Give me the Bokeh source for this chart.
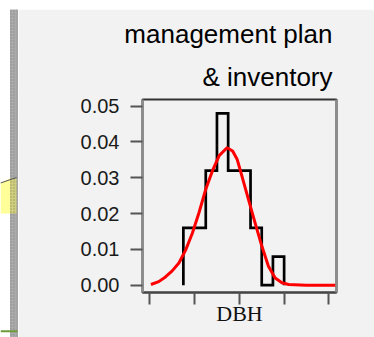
from bokeh.plotting import figure
from bokeh.layouts import row, column
from bokeh.models import (FixedTicker, NumeralTickFormatter, LinearAxis,
                          Range1d, Title)
from bokeh.embed import file_html
from bokeh.resources import INLINE

# ---- data ----
x_ticks = [0, 20, 40, 60, 80]
y_ticks = [0.00, 0.01, 0.02, 0.03, 0.04, 0.05]
bin_edges = [15, 20, 25, 30, 35, 40, 45, 50, 55, 60]
density = [0.016, 0.016, 0.032, 0.048, 0.032, 0.032, 0.016, 0.0, 0.008]
curve_x = [0.5, 4, 7, 10, 13, 16, 19, 22, 25, 28, 31, 34.5, 37, 39, 41, 44,
           47, 50, 53, 56, 59, 62, 70, 83.4]
curve_y = [0.0002, 0.0010, 0.0023, 0.0040, 0.0062, 0.0098, 0.0145, 0.0203,
           0.0268, 0.0320, 0.0362, 0.0384, 0.0375, 0.0352, 0.0308, 0.0241,
           0.0175, 0.0110, 0.0053, 0.0020, 0.0007, 0.0002, 0.0, 0.0]
title_lines = ["management plan", "& inventory"]
x_label = "DBH"

LEFT_W, TOP_H = 18, 9
W, H = 374 - LEFT_W, 337 - TOP_H


def bare(width, height, xr, yr):
    f = figure(width=width, height=height, output_backend="svg",
               toolbar_location=None, x_range=xr, y_range=yr, min_border=0)
    f.axis.visible = False
    f.grid.visible = False
    f.outline_line_color = None
    f.background_fill_color = "white"
    f.border_fill_color = "white"
    return f


# ---- left slide decoration (strip, callout, connector line) ----
left = bare(LEFT_W, 337, Range1d(0, LEFT_W), Range1d(337, 0))
left.quad(left=[9.5], right=[16], top=[9], bottom=[337], fill_color="#ababab",
          line_color=None, hatch_pattern="dot", hatch_color="#8a8a8a",
          hatch_scale=3)
left.quad(left=[16], right=[17.2], top=[9], bottom=[337],
          fill_color="#7d7d7d", line_color=None)
left.patch([0, 9.5, 9.5, 0], [182.5, 178, 213, 213], fill_color="#ffff99",
           line_color=None)
left.quad(left=[9.5], right=[16], top=[178], bottom=[213],
          fill_color="#cfcf7d", line_color=None, hatch_pattern="dot",
          hatch_color="#9a9a60", hatch_scale=3)
left.line([0, 16], [182.5, 177], line_color="#555555", line_width=1)
left.quad(left=[0], right=[17], top=[329.8], bottom=[331.8],
          fill_color="#6e9b3a", line_color=None)

# ---- top strip with the panel's top border ----
top = bare(W, TOP_H, Range1d(0, W), Range1d(TOP_H, 0))
top.quad(left=[0], right=[W], top=[7.8], bottom=[TOP_H],
         fill_color="#a0a0a0", line_color=None)

# ---- main chart ----
p = figure(width=W, height=H, output_backend="svg", toolbar_location=None,
           x_range=Range1d(-3.26, 83.4), y_range=Range1d(-0.00204, 0.05187),
           min_border_left=124, min_border_right=38, min_border_top=90,
           min_border_bottom=45)
p.background_fill_color = "#f2f2f2"
p.border_fill_color = "#f2f2f2"
p.grid.visible = False
p.outline_line_color = "#333333"
p.outline_line_width = 2

xa = p.xaxis[0]
xa.ticker = FixedTicker(ticks=x_ticks)
xa.major_label_overrides = {t: "" for t in x_ticks}
xa.major_label_text_font_size = "1px"
xa.major_label_standoff = 0
xa.major_tick_in = 0
xa.major_tick_out = 12
xa.minor_tick_line_color = None
xa.axis_line_color = "#444444"
xa.axis_line_width = 2
xa.major_tick_line_color = "#555555"
xa.major_tick_line_width = 2
xa.axis_label = x_label
xa.axis_label_text_font = "Liberation Serif"
xa.axis_label_text_font_size = "22px"
xa.axis_label_text_font_style = "normal"
xa.axis_label_text_color = "#111111"
xa.axis_label_standoff = -4

ya = p.yaxis[0]
ya.ticker = FixedTicker(ticks=y_ticks)
ya.formatter = NumeralTickFormatter(format="0.00")
ya.major_tick_in = 0
ya.major_tick_out = 12
ya.minor_tick_line_color = None
ya.axis_line_color = "#8c8c8c"
ya.axis_line_width = 2.5
ya.major_tick_line_color = "#555555"
ya.major_tick_line_width = 2
ya.major_label_standoff = 11
ya.major_label_text_font = "Liberation Sans"
ya.major_label_text_font_size = "20px"
ya.major_label_text_color = "#1a1a1a"

ra = LinearAxis(ticker=FixedTicker(ticks=[]), axis_line_color="#8c8c8c",
                axis_line_width=2.5, major_tick_line_color=None,
                minor_tick_line_color=None)
p.add_layout(ra, "right")

# title: lower line first (closest to the frame)
for txt, so in zip(reversed(title_lines), [15, 8]):
    p.add_layout(Title(text=txt, align="right", offset=4,
                       text_font="Liberation Sans", text_font_size="26px",
                       text_font_style="normal", text_color="black",
                       standoff=so), "above")

# histogram outline (step path built from the edges and densities)
hx, hy = [bin_edges[0]], [0.0]
for i, d in enumerate(density):
    hx += [bin_edges[i], bin_edges[i + 1]]
    hy += [d, d]
hx.append(bin_edges[-1])
hy.append(0.0)
p.line(hx, hy, line_color="black", line_width=2.7, line_join="miter")

# fitted curve
p.line(curve_x, curve_y, line_color="#ff0000", line_width=3, line_join="round")

layout = row(left, column(top, p, spacing=0), spacing=0)
open("out.html", "w").write(file_html(layout, INLINE))
